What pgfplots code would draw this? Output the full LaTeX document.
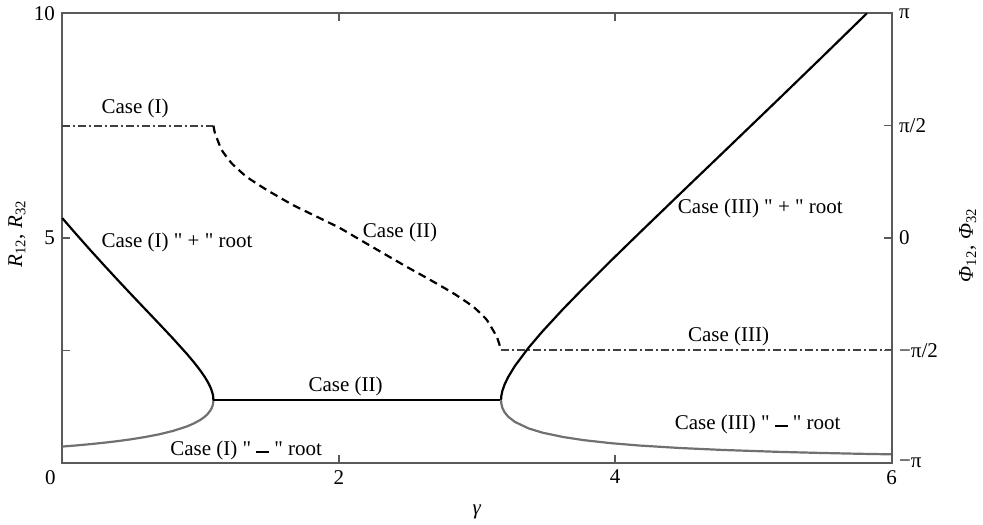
\documentclass[border=0pt]{standalone}
\usepackage{fontspec}
\setmainfont{Liberation Serif}[Ligatures=TeXOff]
\usepackage{pgfplots}
\pgfplotsset{compat=1.18}
\definecolor{axisgray}{HTML}{5A5A5A}
\definecolor{rootgray}{HTML}{707070}
\definecolor{dashgray}{HTML}{404040}
\newcommand{\mbar}{\rule[0.08em]{0.6em}{0.1em}}
\begin{document}
\fontsize{10.5}{12}\selectfont
\begin{tikzpicture}
\useasboundingbox (-31.15pt,-30.65pt) rectangle (460.35pt,231.35pt);
\begin{axis}[
  at={(0,0)}, anchor=south west, scale only axis,
  width=414.7pt, height=224.7pt,
  xmin=0, xmax=6, ymin=0, ymax=10,
  xtick={2,4,6}, xticklabels={2,4,6},
  extra x ticks={0}, extra x tick labels={0},
  extra x tick style={xticklabel style={xshift=-6pt}},
  ytick={0,2.5,5,7.5,10}, yticklabels={,,5,,10},
  xtick pos=both, xticklabel pos=left, ytick pos=left,
  tick align=inside, major tick length=4pt,
  axis line style={axisgray, line width=0.8pt},
  every tick/.style={axisgray, line width=0.8pt},
  xlabel={\textit{γ}}, 
  xlabel style={at={(axis description cs:0.5,-0.109)}, anchor=center},
  ylabel={\textit{R}\textsubscript{12}, \textit{R}\textsubscript{32}},
  ylabel style={at={(axis description cs:-0.0546,0.509)}, anchor=center},
  clip=false,
]
% Case (I) dash-dot
\addplot[dashgray, line width=1.1pt, dash pattern=on 4pt off 1.5pt on 1pt off 1.5pt] coordinates {(0,7.5) (1.093,7.5)};
% Case (II) dashed
\addplot[black, line width=1.1pt, dash pattern=on 4pt off 2.5pt, smooth, tension=0.3] coordinates {
(1.093,7.5) (1.105,7.33) (1.153,6.96) (1.226,6.66) (1.334,6.36) (1.479,6.07) (1.671,5.73)
(1.864,5.44) (2.009,5.22) (2.154,4.96) (2.322,4.66) (2.491,4.36) (2.66,4.07) (2.829,3.77)
(2.973,3.47) (3.07,3.18) (3.143,2.80) (3.167,2.58) (3.174,2.5)};
% Case (III) dash-dot
\addplot[dashgray, line width=1.1pt, dash pattern=on 4pt off 1.5pt on 1pt off 1.5pt] coordinates {(3.174,2.5) (6,2.5)};
% Case (I) + root
\addplot[black, line width=1.1pt] coordinates {
(0,5.441) (0.1,5.087) (0.2,4.740) (0.3,4.401) (0.4,4.068) (0.5,3.740) (0.6,3.416)
(0.7,3.093) (0.8,2.766) (0.9,2.425) (0.95,2.243) (1.0,2.045) (1.03,1.911) (1.05,1.810)
(1.07,1.689) (1.08,1.612) (1.088,1.529) (1.091,1.482) (1.093,1.398)};
% Case (I) - root
\addplot[rootgray, line width=1.1pt] coordinates {
(1.093,1.398) (1.091,1.318) (1.088,1.277) (1.08,1.212) (1.07,1.157) (1.05,1.079)
(1.03,1.022) (1.0,0.955) (0.95,0.871) (0.9,0.805) (0.8,0.706) (0.7,0.631) (0.6,0.572)
(0.5,0.522) (0.4,0.480) (0.3,0.444) (0.2,0.412) (0.1,0.384) (0,0.359)};
% Case (II) solid
\addplot[black, line width=1.1pt] coordinates {(1.093,1.398) (3.174,1.398)};
% Case (III) + root
\addplot[black, line width=1.1pt] coordinates {
(3.174,1.398) (3.176,1.486) (3.184,1.603) (3.199,1.736) (3.224,1.898) (3.274,2.152)
(3.374,2.563) (3.474,2.923) (3.624,3.423) (3.774,3.897) (3.974,4.510) (4.174,5.109)
(4.474,5.999) (4.774,6.884) (5.174,8.067) (5.474,8.960) (5.774,9.860) (5.82,10.0)};
% Case (III) - root
\addplot[rootgray, line width=1.1pt] coordinates {
(3.174,1.398) (3.176,1.314) (3.184,1.218) (3.199,1.125) (3.224,1.029) (3.274,0.908)
(3.374,0.762) (3.474,0.668) (3.624,0.571) (3.774,0.501) (3.974,0.433) (4.174,0.382)
(4.474,0.326) (4.774,0.284) (5.174,0.242) (5.474,0.218) (5.774,0.198) (6.0,0.186)};
% labels
\node at (axis cs:0.527,7.89) {Case (I)};
\node at (axis cs:0.83,4.9) {Case (I) " + " root};
\node at (axis cs:2.443,5.13) {Case (II)};
\node at (axis cs:2.05,1.70) {Case (II)};
\node at (axis cs:5.05,5.66) {Case (III) " + " root};
\node at (axis cs:4.82,2.82) {Case (III)};
\node at (axis cs:5.03,0.86) {Case (III) " \mbar\ " root};
\node at (axis cs:1.33,0.28) {Case (I) " \mbar\ " root};
\end{axis}
\begin{axis}[
  at={(0,0)}, anchor=south west, scale only axis,
  width=414.7pt, height=224.7pt,
  xmin=0, xmax=6, ymin=0, ymax=10,
  axis x line=none, axis y line*=right,
  ytick={0,2.5,5,7.5,10}, yticklabels={−π,−π/2,0,π/2,π},
  tick align=inside, major tick length=4pt,
  axis line style={axisgray, line width=0.8pt, -},
  every tick/.style={axisgray, line width=0.8pt},
  ylabel={\textit{Φ}\textsubscript{12}, \textit{Φ}\textsubscript{32}},
  ylabel style={at={(axis description cs:1.0916,0.484)}, anchor=center, rotate=0},
]
\end{axis}
\end{tikzpicture}
\end{document}
